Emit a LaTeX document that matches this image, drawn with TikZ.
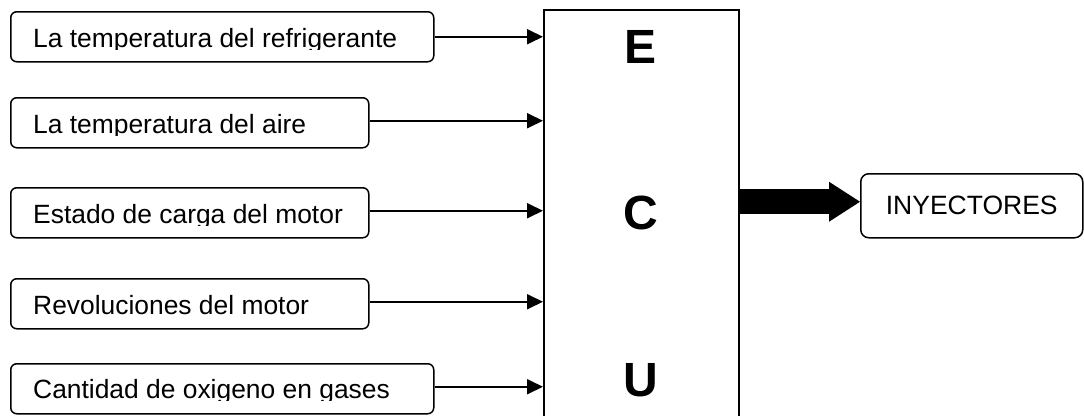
\documentclass[tikz,border=0pt]{standalone}
\usepackage{fontspec}
\setmainfont{Liberation Sans}
\usetikzlibrary{arrows.meta,calc}
\tikzset{
  inbox/.style={draw=black, line width=1.5pt, rounded corners=6pt, minimum height=50pt, anchor=north west, inner sep=0pt},
  intext/.style={anchor=base west, inner sep=0pt, font=\fontsize{26.4}{30}\selectfont},
  ecubox/.style={draw=black, line width=1.7pt, anchor=north west, minimum width=195pt, minimum height=440pt, inner sep=0pt},
  ecutext/.style={anchor=base, inner sep=0pt, font=\fontsize{48}{56}\selectfont\bfseries},
  outbox/.style={draw=black, line width=1.5pt, rounded corners=8pt, anchor=north west, minimum width=222pt, minimum height=64pt, inner sep=0pt, font=\fontsize{26.5}{30}\selectfont},
  inarrow/.style={draw=black, line width=1.8pt, -{Triangle[length=16pt,width=15pt]}},
  bigarrow/.style={draw=black, line width=25pt, -{Triangle[length=31pt,width=40pt,line width=0pt]}}
}
\begin{document}
\begin{tikzpicture}[x=1pt,y=-1pt]
\useasboundingbox (0,0) rectangle (1084,415);
\clip (0,0) rectangle (1084,415);
\fill[white] (0,0) rectangle (1084,415);

% input boxes
\node[inbox, minimum width=423pt] (b1) at (10,11) {};
\node[inbox, minimum width=358pt] (b2) at (10,97) {};
\node[inbox, minimum width=358pt] (b3) at (10,187) {};
\node[inbox, minimum width=358pt] (b4) at (10,278) {};
\node[inbox, minimum width=423pt] (b5) at (10,363) {};

% texts (clipped at the bottom as in the original)
\begin{scope}\clip (10,11) rectangle (440,49);
\node[intext] (t1) at (33,47) {La temperatura del refrigerante};
\end{scope}
\begin{scope}\clip (10,97) rectangle (440,135);
\node[intext] (t2) at (33,133) {La temperatura del aire};
\end{scope}
\begin{scope}\clip (10,187) rectangle (440,225);
\node[intext] (t3) at (33,223) {Estado de carga del motor};
\end{scope}
\begin{scope}\clip (10,278) rectangle (440,316);
\node[intext] (t4) at (33,314) {Revoluciones del motor};
\end{scope}
\begin{scope}\clip (10,363) rectangle (440,400);
\node[intext] (t5) at (33,398) {Cantidad de oxigeno en gases};
\end{scope}

% ECU
\node[ecubox] (ecu) at (543,9) {};
\node[ecutext] (E) at (640.5,63.5) {E};
\node[ecutext] (C) at (640.5,229) {C};
\node[ecutext] (U) at (640.5,396.5) {U};

% output
\node[outbox] (iny) at (860,173) {INYECTORES};

% connectors
\draw[inarrow] (b1.east) -- (b1.east -| ecu.west);
\draw[inarrow] ([yshift=2pt]b2.east) -- ([yshift=2pt]b2.east -| ecu.west);
\draw[inarrow] ([yshift=2pt]b3.east) -- ([yshift=2pt]b3.east -| ecu.west);
\draw[inarrow] ([yshift=2pt]b4.east) -- ([yshift=2pt]b4.east -| ecu.west);
\draw[inarrow] ([yshift=2pt]b5.east) -- ([yshift=2pt]b5.east -| ecu.west);

\coordinate (tip) at ([yshift=4pt]iny.west);
\draw[bigarrow] (ecu.east |- tip) -- (tip);
\end{tikzpicture}
\end{document}
